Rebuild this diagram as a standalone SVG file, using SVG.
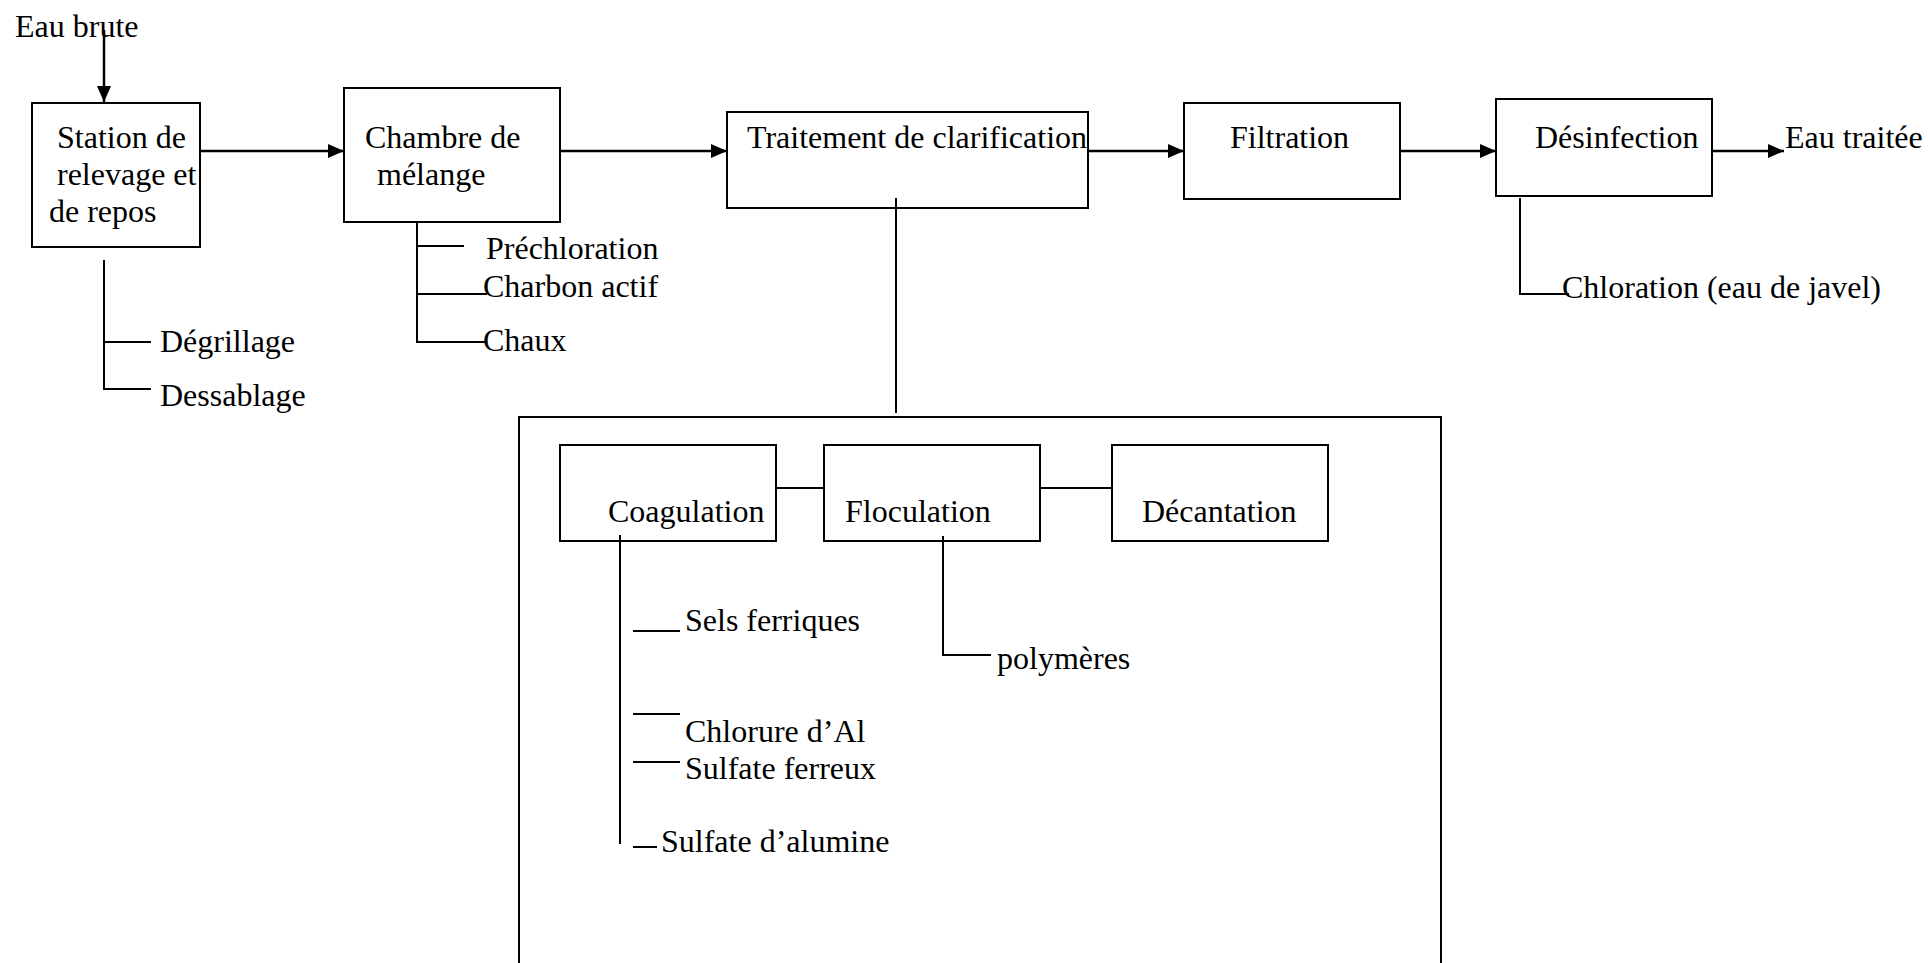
<svg xmlns="http://www.w3.org/2000/svg" width="1928" height="963" viewBox="0 0 1928 963">
<style>
.box{fill:#fff;stroke:#000;stroke-width:2}
.ln{fill:none;stroke:#000;stroke-width:2}
.ar{fill:none;stroke:#000;stroke-width:2.5}
text{font-family:"Liberation Serif","Times New Roman",serif;font-size:32px;fill:#000}
</style>
<defs>
<marker id="ah" markerUnits="userSpaceOnUse" markerWidth="18" markerHeight="16" refX="16" refY="7" orient="auto">
<path d="M0,0 L16,7 L0,14 z" fill="#000"/>
</marker>
</defs>
<rect width="1928" height="963" fill="#fff"/>

<g id="big-box">
<rect class="box" x="519" y="417" width="922" height="600"/>
</g>

<g id="station">
<rect class="box" x="32" y="103" width="168" height="144"/>
<text x="57" y="148">Station de</text>
<text x="57" y="185">relevage et</text>
<text x="49" y="222">de repos</text>
</g>
<g id="chambre">
<rect class="box" x="344" y="88" width="216" height="134"/>
<text x="365" y="148">Chambre de</text>
<text x="377" y="185">mélange</text>
</g>
<g id="traitement">
<rect class="box" x="727" y="112" width="361" height="96"/>
<text x="747" y="148">Traitement de clarification</text>
</g>
<g id="filtration">
<rect class="box" x="1184" y="103" width="216" height="96"/>
<text x="1230" y="148">Filtration</text>
</g>
<g id="desinfection">
<rect class="box" x="1496" y="99" width="216" height="97"/>
<text x="1535" y="148">Désinfection</text>
</g>
<g id="coagulation">
<rect class="box" x="560" y="445" width="216" height="96"/>
<text x="608" y="522">Coagulation</text>
</g>
<g id="floculation">
<rect class="box" x="824" y="445" width="216" height="96"/>
<text x="845" y="522">Floculation</text>
</g>
<g id="decantation">
<rect class="box" x="1112" y="445" width="216" height="96"/>
<text x="1142" y="522">Décantation</text>
</g>

<g id="labels">
<text x="15" y="37">Eau brute</text>
<text x="1785" y="148">Eau traitée</text>
<text x="160" y="352">Dégrillage</text>
<text x="160" y="406">Dessablage</text>
<text x="486" y="259">Préchloration</text>
<text x="483" y="297">Charbon actif</text>
<text x="483" y="351">Chaux</text>
<text x="1562" y="298">Chloration (eau de javel)</text>
<text x="685" y="631">Sels ferriques</text>
<text x="685" y="742">Chlorure d’Al</text>
<text x="685" y="779">Sulfate ferreux</text>
<text x="661" y="852">Sulfate d’alumine</text>
<text x="997" y="669">polymères</text>
</g>

<g id="connectors">
<line class="ar" x1="104" y1="30" x2="104" y2="102" marker-end="url(#ah)"/>
<line class="ar" x1="200" y1="151" x2="344" y2="151" marker-end="url(#ah)"/>
<line class="ar" x1="560" y1="151" x2="727" y2="151" marker-end="url(#ah)"/>
<line class="ar" x1="1088" y1="151" x2="1184" y2="151" marker-end="url(#ah)"/>
<line class="ar" x1="1400" y1="151" x2="1496" y2="151" marker-end="url(#ah)"/>
<line class="ar" x1="1712" y1="151" x2="1784" y2="151" marker-end="url(#ah)"/>

<path class="ln" d="M104,260 V389 H151 M104,342 H151"/>
<path class="ln" d="M417,222 V342 H487 M417,246 H464 M417,294 H487"/>
<path class="ln" d="M1520,198 V294 H1569"/>
<line class="ln" x1="896" y1="198" x2="896" y2="413"/>
<line class="ln" x1="776" y1="488" x2="824" y2="488"/>
<line class="ln" x1="1040" y1="488" x2="1112" y2="488"/>
<path class="ln" d="M620,535 V844"/>
<path class="ln" d="M633,631 H680 M633,714 H680 M633,762 H680 M633,847 H657"/>
<path class="ln" d="M943,536 V655 H991"/>
</g>
</svg>
